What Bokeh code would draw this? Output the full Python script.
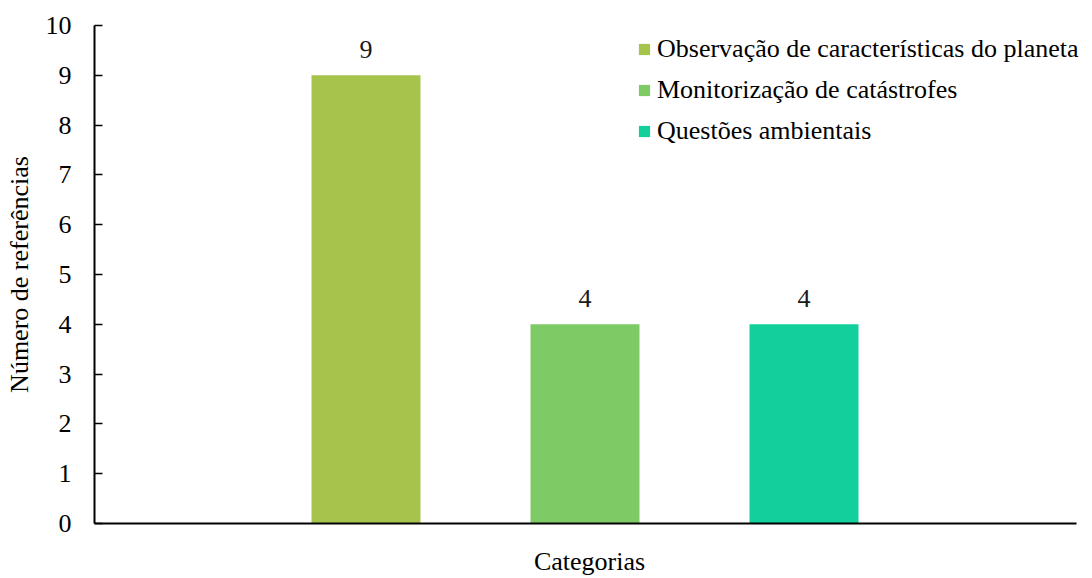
from bokeh.plotting import figure
from bokeh.models import (ColumnDataSource, Legend, LegendItem, LabelSet,
                          FixedTicker, Range1d)
from bokeh.embed import file_html
from bokeh.resources import INLINE

# ---- data ----
categories = ["Observação de características do planeta",
              "Monitorização de catástrofes",
              "Questões ambientais"]
values = [9, 4, 4]
colors = ["#A6C34C", "#7ECB65", "#12CF9B"]
y_ticks = [0, 1, 2, 3, 4, 5, 6, 7, 8, 9, 10]
x_title = "Categorias"
y_title = "Número de referências"

FONT = "Liberation Serif"
FS = "26px"

positions = list(range(len(categories)))
source = ColumnDataSource(dict(
    x=positions, top=values, color=colors, cat=categories,
    label=[str(v) for v in values]))

X_START, X_AXIS_END, X_END = -1.2397, 3.2443, 3.2808

p = figure(width=1092, height=578,
           x_range=Range1d(X_START, X_END), y_range=Range1d(0, 10),
           output_backend="svg", toolbar_location=None,
           min_border_left=94, min_border_right=8,
           min_border_top=25, min_border_bottom=55)

r = p.vbar(x="x", top="top", width=0.4977, bottom=0, color="color",
           line_color=None, source=source)

labels = LabelSet(x="x", y="top", text="label", source=source,
                  y_offset=17, text_align="center", text_baseline="alphabetic",
                  text_font=FONT, text_font_size=FS, text_color="#1a1a1a")
p.add_layout(labels)

# axes
p.xgrid.visible = False
p.ygrid.visible = False
p.outline_line_color = None

ya = p.yaxis[0]
ya.ticker = FixedTicker(ticks=y_ticks)
ya.major_tick_in = 8
ya.major_tick_out = 0
ya.minor_tick_line_color = None
ya.major_tick_line_width = 1.5
ya.major_tick_line_color = "#000000"
ya.axis_line_width = 2
ya.axis_line_color = "#000000"
ya.major_label_standoff = 23
ya.major_label_text_font = FONT
ya.major_label_text_font_size = FS
ya.major_label_text_color = "#000000"
ya.axis_label = y_title
ya.axis_label_standoff = 9
ya.axis_label_text_font = FONT
ya.axis_label_text_font_size = FS
ya.axis_label_text_font_style = "normal"
ya.axis_label_text_color = "#000000"

xa = p.xaxis[0]
xa.ticker = FixedTicker(ticks=[])
xa.bounds = (X_START, X_AXIS_END)
xa.major_tick_line_color = None
xa.minor_tick_line_color = None
xa.axis_line_width = 2
xa.axis_line_color = "#000000"
xa.axis_label = x_title
xa.axis_label_standoff = 23
xa.axis_label_text_font = FONT
xa.axis_label_text_font_size = FS
xa.axis_label_text_font_style = "normal"
xa.axis_label_text_color = "#000000"

legend = Legend(
    items=[LegendItem(label=c, renderers=[r], index=i)
           for i, c in enumerate(categories)],
    location=(543, 377), orientation="vertical",
    border_line_color=None, background_fill_alpha=0,
    padding=0, margin=0, spacing=11,
    glyph_width=14, glyph_height=14, label_standoff=6,
    label_height=30,
    label_text_font=FONT, label_text_font_size=FS,
    label_text_color="#000000")
p.add_layout(legend)

open("out.html", "w").write(file_html(p, INLINE))
